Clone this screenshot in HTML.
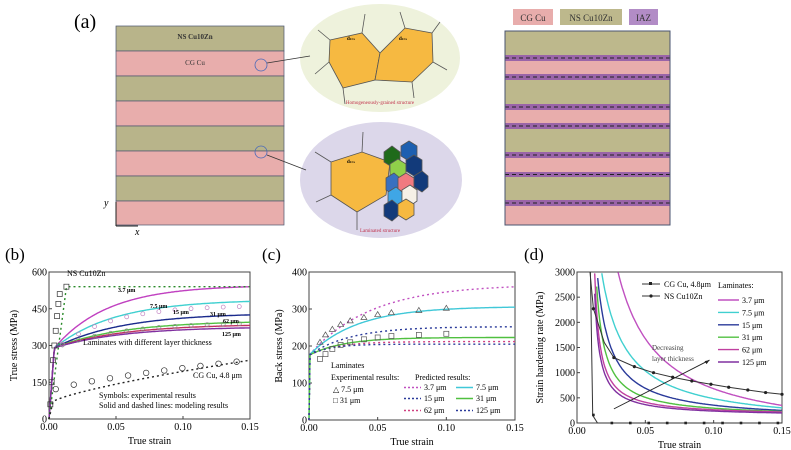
<!DOCTYPE html>
<html><head><meta charset="utf-8"><style>
html,body{margin:0;padding:0;background:#fff;}
svg{display:block;font-family:"Liberation Serif",serif;}
</style></head><body>
<svg id="s" width="791" height="450" viewBox="0 0 791 450" xmlns="http://www.w3.org/2000/svg">
<rect width="791" height="450" fill="#fff"/>
<text x="74" y="28" font-size="20">(a)</text>
<g id="leftblock"></g>
<ellipse cx="380" cy="58" rx="80" ry="54" fill="#eef2dc"/>
<ellipse cx="381" cy="180" rx="81" ry="58" fill="#dcd7ea"/>
<g stroke="#555" stroke-width="0.8">
<polygon points="330,40 362,33 380,53 375,80 343,88 329,62" fill="#f6b941"/>
<polygon points="380,53 405,28 432,33 433,62 412,82 375,80" fill="#f6b941"/>
<line x1="330" y1="40" x2="318" y2="30"/><line x1="362" y1="33" x2="365" y2="14"/><line x1="405" y1="28" x2="400" y2="12"/><line x1="432" y1="33" x2="440" y2="22"/><line x1="433" y1="62" x2="447" y2="70"/><line x1="412" y1="82" x2="414" y2="98"/><line x1="343" y1="88" x2="345" y2="104"/><line x1="329" y1="62" x2="315" y2="74"/>
<polygon points="331,162 362,152 390,162 386,195 357,212 331,195" fill="#f6b941"/>
<line x1="331" y1="162" x2="315" y2="152"/><line x1="362" y1="152" x2="363" y2="132"/><line x1="331" y1="195" x2="316" y2="202"/><line x1="357" y1="212" x2="357" y2="230"/>
<polygon points="384,152 392,146 400,152 400,162 392,167 384,162" fill="#1f6a1a"/>
<polygon points="401,146 409,141 417,146 417,156 409,161 401,156" fill="#1d5fb0"/>
<polygon points="390,164 398,159 406,164 406,175 398,180 390,175" fill="#8fd04a"/>
<polygon points="406,160 414,155 422,160 422,171 414,176 406,171" fill="#123a7a"/>
<polygon points="386,178 394,173 400,178 400,190 394,195 386,190" fill="#3970c0"/>
<polygon points="398,178 406,173 414,178 414,189 406,194 398,189" fill="#f07a80"/>
<polygon points="414,176 422,171 428,176 428,187 422,192 414,187" fill="#123a7a"/>
<polygon points="388,192 396,187 402,192 402,203 396,208 388,203" fill="#3fa6e6"/>
<polygon points="402,190 410,185 417,190 417,201 410,206 402,201" fill="#f6f0e6"/>
<polygon points="384,205 392,200 398,205 398,216 392,221 384,216" fill="#123a7a"/>
<polygon points="398,204 406,199 414,204 414,215 406,220 398,215" fill="#f6b941"/>
</g>
<text x="347" y="40" font-size="5" font-weight="bold">d<tspan font-size="3.5">CG</tspan></text>
<text x="399" y="40" font-size="5" font-weight="bold">d<tspan font-size="3.5">CG</tspan></text>
<text x="347" y="163" font-size="5" font-weight="bold">d<tspan font-size="3.5">CG</tspan></text>
<text x="380" y="104" font-size="5" fill="#c0304a" text-anchor="middle">Homogeneously-grained structure</text>
<text x="380" y="232" font-size="5" fill="#c0304a" text-anchor="middle">Laminated structure</text>
<circle cx="261" cy="65" r="6" fill="none" stroke="#4a6ab8" stroke-width="0.8"/>
<circle cx="261" cy="152" r="6" fill="none" stroke="#4a6ab8" stroke-width="0.8"/>
<line x1="267" y1="63" x2="310" y2="56" stroke="#333" stroke-width="0.8"/>
<line x1="267" y1="155" x2="306" y2="170" stroke="#333" stroke-width="0.8"/>
<text x="195" y="39" font-size="7" text-anchor="middle" font-weight="bold" fill="#333">NS Cu10Zn</text>
<text x="195" y="65" font-size="7" text-anchor="middle" fill="#333">CG Cu</text>
<line x1="116" y1="202" x2="116" y2="226" stroke="#222" stroke-width="1"/>
<line x1="116" y1="226" x2="138" y2="226" stroke="#222" stroke-width="1"/>
<text x="104" y="206" font-size="10" font-style="italic">y</text>
<text x="135" y="235" font-size="10" font-style="italic">x</text>
<rect x="513" y="9" width="40" height="16" fill="#e8adac"/><text x="533" y="21" font-size="9" text-anchor="middle" fill="#333">CG Cu</text>
<rect x="560" y="9" width="62" height="16" fill="#bdb88c"/><text x="591" y="21" font-size="9" text-anchor="middle" fill="#333">NS Cu10Zn</text>
<rect x="629" y="9" width="29" height="16" fill="#b28cc6"/><text x="643.5" y="21" font-size="9" text-anchor="middle" fill="#333">IAZ</text>
<g id="rightblock"></g>
<text x="5" y="260" font-size="17">(b)</text>
<text x="262" y="260" font-size="17">(c)</text>
<text x="524" y="260" font-size="17">(d)</text>
<g id="plots"></g>
</svg>
<script>
var NS="http://www.w3.org/2000/svg";
function el(p,t,a,txt){var e=document.createElementNS(NS,t);for(var k in a)e.setAttribute(k,a[k]);if(txt!==undefined)e.textContent=txt;p.appendChild(e);return e;}
var lb=document.getElementById('leftblock');
var ys=[26,51,76,101,126,151,176,201,225];
for(var i=0;i<8;i++)el(lb,'rect',{x:116,y:ys[i],width:168,height:ys[i+1]-ys[i],fill:i%2?'#e8adac':'#b8b48a',stroke:'#4a5570','stroke-width':0.7});
var rb=document.getElementById('rightblock');
var L=[['o',31,55],['p',55,61],['k',61,74],['p',74,80],['o',80,104],['p',104,110],['k',110,123],['p',123,129],['o',129,152],['p',152,158],['k',158,172],['p',172,177],['o',177,200],['p',200,206],['k',206,225]];
var C={o:'#bdb88c',p:'#9a64a8',k:'#e8adac'};
L.forEach(function(l){el(rb,'rect',{x:505,y:l[1],width:165,height:l[2]-l[1],fill:C[l[0]]});
 if(l[0]=='p'){el(rb,'line',{x1:505,x2:670,y1:(l[1]+l[2])/2,y2:(l[1]+l[2])/2,stroke:'#222','stroke-width':1,'stroke-dasharray':'4,3'});}});
el(rb,'rect',{x:505,y:31,width:165,height:194,fill:'none',stroke:'#4a5570','stroke-width':1});

var P=document.getElementById('plots');
function panel(x0,y0,x1,y1,ymax,yt,ylab,ylabx){
 var o={X:function(e){return x0+(x1-x0)*e/0.15},Y:function(v){return y1-(y1-y0)*v/ymax}};
 el(P,'rect',{x:x0,y:y0,width:x1-x0,height:y1-y0,fill:'none',stroke:'#444','stroke-width':1});
 [0,0.05,0.10,0.15].forEach(function(t,i){var x=o.X(t);el(P,'line',{x1:x,x2:x,y1:y1,y2:y1-3,stroke:'#444'});
  el(P,'text',{x:x,y:y1+11,'font-size':10,'text-anchor':'middle'},['0.00','0.05','0.10','0.15'][i]);});
 yt.forEach(function(t){var y=o.Y(t);el(P,'line',{x1:x0,x2:x0+3,y1:y,y2:y,stroke:'#444'});
  el(P,'text',{x:x0-2,y:y+3.5,'font-size':10,'text-anchor':'end'},String(t));});
 el(P,'text',{x:(x0+x1)/2,y:y1+25,'font-size':10,'text-anchor':'middle'},'True strain');
 el(P,'text',{x:0,y:0,'font-size':10,'text-anchor':'middle',transform:'translate('+ylabx+','+((y0+y1)/2)+') rotate(-90)'},ylab);
 o.path=function(f,a,b,st){var d='';var first=true;for(var e=a;e<=b+1e-9;e+=(b-a)/200){var v=f(e);if(v>ymax){first=true;continue;}if(v<0)v=0;d+=(first?'M':'L')+o.X(e).toFixed(1)+','+o.Y(v).toFixed(1);first=false;}
  var at={d:d,fill:'none','stroke-width':1.4};for(var k in st)at[k]=st[k];el(P,'path',at);};
 return o;}
var b=panel(49,272,250,419,600,[0,150,300,450,600],'True stress (MPa)',17);
function lam(E,tau){return function(e){if(e<0.004)return 290*e/0.004;return 290+(E-290)*(1-Math.exp(-(e-0.004)/tau))/(1-Math.exp(-0.146/tau));};}
var BL=[[540,0.04,'#c040c0'],[480,0.045,'#40d0d0'],[425,0.05,'#1a2a8c'],[395,0.05,'#50c040'],[382,0.05,'#c03060'],[372,0.05,'#8030a0']];
BL.forEach(function(c){b.path(lam(c[0],c[1]),0,0.15,{stroke:c[2]});});
b.path(function(e){return e<0.013?540*e/0.013:540;},0.0,0.15,{stroke:'#2a8a2a','stroke-dasharray':'2,3'});
b.path(function(e){return e<0.003?70*e/0.003:70+170*Math.pow((e-0.003)/0.147,0.75);},0,0.15,{stroke:'#222','stroke-dasharray':'2,3'});
[0.001,0.002,0.003,0.004,0.005,0.006,0.007,0.008,0.013].forEach(function(e,i){var v=[60,150,240,300,360,420,470,510,540][i];el(P,'rect',{x:b.X(e)-2.5,y:b.Y(v)-2.5,width:5,height:5,fill:'none',stroke:'#333','stroke-width':0.7});});
for(var e=0.005;e<0.15;e+=0.0135){var v=110+130*Math.pow(e/0.15,0.7);el(P,'circle',{cx:b.X(e),cy:b.Y(v),r:2.8,fill:'none',stroke:'#333','stroke-width':0.7});}
for(var e=0.01;e<0.15;e+=0.012){el(P,'circle',{cx:b.X(e),cy:b.Y(lam(470,0.04)(e)-10),r:2,fill:'none',stroke:'#c080c0','stroke-width':0.7});
 el(P,'circle',{cx:b.X(e),cy:b.Y(lam(390,0.05)(e)),r:2,fill:'none',stroke:'#888','stroke-width':0.7});}
[['NS Cu10Zn',67,276,8,0],['3.7 μm',118,292,6,1],['7.5 μm',150,308,6,1],['15 μm',173,314,6,1],['31 μm',210,316,6,1],['62 μm',223,323,6,1],['125 μm',222,336,6,1]].forEach(function(t){el(P,'text',{x:t[1],y:t[2],'font-size':t[3],'font-weight':t[4]?'bold':'normal'},t[0]);});
el(P,'text',{x:83,y:345,'font-size':8},'Laminates with different  layer thickness');
el(P,'text',{x:193,y:378,'font-size':8},'CG Cu, 4.8 μm');
el(P,'text',{x:99,y:398,'font-size':8},'Symbols: experimental results');
el(P,'text',{x:99,y:408,'font-size':8},'Solid and dashed lines: modeling results');
var c=panel(309,272,515,420,400,[0,100,200,300,400],'Back stress (MPa)',282);
function bs(E,tau){return function(e){if(e<0.0005)return 175*e/0.0005;return 175+(E-175)*(1-Math.exp(-e/tau))/(1-Math.exp(-0.15/tau));};}
var CL=[[360,0.045,'#c050c0',1],[305,0.035,'#40c8d8',0],[252,0.03,'#2a3a9a',1],[223,0.025,'#50c040',0],[212,0.02,'#d04080',1],[205,0.015,'#2a3a9a',1]];
CL.forEach(function(l){var s={stroke:l[2]};if(l[3])s['stroke-dasharray']='2,3';c.path(bs(l[0],l[1]),0,0.15,s);});
[[0.008,210],[0.012,230],[0.017,245],[0.023,258],[0.03,268],[0.04,277],[0.05,285],[0.06,290],[0.08,296],[0.1,302]].forEach(function(p){var x=c.X(p[0]),y=c.Y(p[1]);el(P,'path',{d:'M'+x+','+(y-3)+'L'+(x+3)+','+(y+2)+'L'+(x-3)+','+(y+2)+'Z',fill:'none',stroke:'#555','stroke-width':0.7});});
[[0.008,165],[0.012,178],[0.017,192],[0.023,203],[0.03,210],[0.04,218],[0.05,223],[0.06,227],[0.08,230],[0.1,233]].forEach(function(p){el(P,'rect',{x:c.X(p[0])-2.5,y:c.Y(p[1])-2.5,width:5,height:5,fill:'none',stroke:'#555','stroke-width':0.7});});
el(P,'text',{x:331,y:368,'font-size':8},'Laminates');
el(P,'text',{x:331,y:380,'font-size':8},'Experimental results:');
el(P,'text',{x:415,y:380,'font-size':8},'Predicted results:');
el(P,'text',{x:333,y:392,'font-size':8},'△  7.5 μm');
el(P,'text',{x:333,y:403,'font-size':8},'□  31 μm');
[['3.7 μm','#c050c0',1,414,390],['7.5 μm','#40c8d8',0,466,390],['15 μm','#2a3a9a',1,414,401],['31 μm','#50c040',0,466,401],['62 μm','#d04080',1,414,413],['125 μm','#2a3a9a',1,466,413]].forEach(function(l){
 var a={x1:l[3]-10,x2:l[3]+7,y1:l[4]-2.5,y2:l[4]-2.5,stroke:l[1],'stroke-width':1.4};if(l[2])a['stroke-dasharray']='2,2';el(P,'line',a);el(P,'text',{x:l[3]+10,y:l[4],'font-size':8},l[0]);});
var d=panel(577,272,782,423,3000,[0,500,1000,1500,2000,2500,3000],'Strain hardening rate (MPa)',543);
var DL=[[99.4,-313,0,'#c050c0'],[55.2,-68,0,'#40d0d0'],[28.7,52,0.005,'#2a3a9a'],[16.65,113,0.008,'#50c040'],[11.1,141,0.009,'#c040a0'],[9.55,132,0.009,'#8030a0']];
DL.forEach(function(l){d.path(function(e){return e<=l[2]+0.0005?1e9:l[1]+l[0]/(e-l[2]);},0.001,0.15,{stroke:l[3]});});
var nsp=[[0.0095,3000],[0.012,2270],[0.02,1600],[0.027,1300],[0.042,1120],[0.056,1000],[0.07,910],[0.084,835],[0.098,770],[0.111,710],[0.125,655],[0.138,605],[0.15,570]];
var dd='';nsp.forEach(function(p,i){dd+=(i?'L':'M')+d.X(p[0]).toFixed(1)+','+d.Y(p[1]).toFixed(1);});
el(P,'path',{d:dd,fill:'none',stroke:'#333','stroke-width':1});
nsp.slice(1).forEach(function(p){if(p[0]!=0.02)el(P,'circle',{cx:d.X(p[0]),cy:d.Y(p[1]),r:1.6,fill:'#222'});});
el(P,'path',{d:'M'+d.X(0.0098)+','+d.Y(3000)+'L'+d.X(0.0115)+','+d.Y(150)+'L'+d.X(0.015)+','+d.Y(0)+'L'+d.X(0.15)+','+d.Y(0),fill:'none',stroke:'#333','stroke-width':1});
for(var e=0.012;e<0.15;e+=0.0135)el(P,'rect',{x:d.X(e)-1.3,y:d.Y(e<0.013?160:0)-1.3,width:2.6,height:2.6,fill:'#222'});
el(P,'line',{x1:d.X(0.027),y1:d.Y(280),x2:d.X(0.097),y2:d.Y(1250),stroke:'#222','stroke-width':0.9});
el(P,'path',{d:'M'+d.X(0.097)+','+d.Y(1250)+'l-5,1 l2,3z',fill:'#222'});
el(P,'text',{x:652,y:350,'font-size':7,fill:'#444'},'Decreasing');
el(P,'text',{x:652,y:361,'font-size':7,fill:'#444'},'layer thickness');
el(P,'line',{x1:642,x2:660,y1:284,y2:284,stroke:'#333'});el(P,'rect',{x:649,y:282,width:3,height:3,fill:'#222'});
el(P,'text',{x:664,y:287,'font-size':8},'CG Cu, 4.8μm');
el(P,'line',{x1:642,x2:660,y1:296,y2:296,stroke:'#333'});el(P,'circle',{cx:651,cy:296,r:1.6,fill:'#222'});
el(P,'text',{x:664,y:299,'font-size':8},'NS Cu10Zn');
el(P,'text',{x:718,y:288,'font-size':8},'Laminates:');
['#c050c0','#40d0d0','#2a3a9a','#50c040','#c040a0','#8030a0'].forEach(function(col,i){var y=300+i*12.4;
 el(P,'line',{x1:718,x2:739,y1:y,y2:y,stroke:col,'stroke-width':1.4});
 el(P,'text',{x:742,y:y+3,'font-size':8},['3.7 μm','7.5 μm','15 μm','31 μm','62 μm','125 μm'][i]);});
</script>
</body></html>
